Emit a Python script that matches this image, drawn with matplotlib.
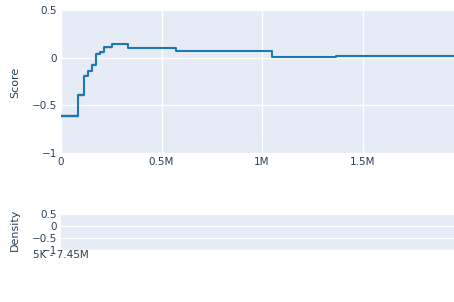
import matplotlib
matplotlib.use("Agg")
import matplotlib.pyplot as plt
import numpy as np

# Step function data (bin edges in units of raw x, score per bin)
edges = [0, 83000, 116000, 136000, 154000, 172000, 194000, 215000, 252000,
         335000, 572000, 1048000, 1368000, 1955000]
scores = [-0.61, -0.39, -0.19, -0.14, -0.075, 0.04, 0.055, 0.11, 0.145,
          0.10, 0.075, 0.005, 0.018]
band = [0.02, 0.02, 0.015, 0.015, 0.015, 0.015, 0.015, 0.015, 0.01,
        0.01, 0.01, 0.01, 0.01]

y_ticks = [-1, -0.5, 0, 0.5]
y_labels = ["\u22121", "\u22120.5", "0", "0.5"]
x_ticks = [0, 500000, 1000000, 1500000]
x_labels = ["0", "0.5M", "1M", "1.5M"]
density_label = "5K - 7.45M"

BG = "#E5ECF6"
TXT = "#2a3f5f"
LINE = "#1f77b4"

fig = plt.figure(figsize=(4.54, 3.02), dpi=100)
W, H = 454, 302

def ax_rect(x0, y0, x1, y1):
    return [x0 / W, 1 - y1 / H, (x1 - x0) / W, (y1 - y0) / H]

ax = fig.add_axes(ax_rect(61, 10, 454, 153))
ax.set_facecolor(BG)
for s in ax.spines.values():
    s.set_visible(False)

xs = np.array(edges, dtype=float)
ys = np.array(scores + [scores[-1]], dtype=float)
bw = np.array(band + [band[-1]], dtype=float)
ax.fill_between(xs, ys - bw, ys + bw, step="post", color="#9aa5b1", alpha=0.35, lw=0, zorder=2)
ax.step(xs, ys, where="post", color=LINE, lw=1.5, zorder=3)

ax.set_xlim(0, edges[-1])
ax.set_ylim(-1, 0.5)
ax.set_yticks(y_ticks)
ax.set_yticklabels(y_labels)
ax.set_xticks(x_ticks)
ax.set_xticklabels(x_labels)
ax.grid(True, color="white", lw=1.0, zorder=1)
ax.set_axisbelow(True)
ax.tick_params(length=0, labelsize=7.5, colors=TXT, pad=3)
for lbl in ax.get_yticklabels():
    lbl.set_color(TXT)

ax2 = fig.add_axes(ax_rect(61, 214, 454, 250))
ax2.set_facecolor(BG)
for s in ax2.spines.values():
    s.set_visible(False)
ax2.set_xlim(0, edges[-1])
ax2.set_ylim(-1, 0.5)
ax2.set_yticks(y_ticks)
ax2.set_yticklabels(y_labels)
ax2.set_xticks([0])
ax2.set_xticklabels([density_label])
ax2.yaxis.grid(True, color="white", lw=1.0)
ax2.tick_params(length=0, labelsize=7.5, colors=TXT, pad=3)
ax2.tick_params(axis="x", pad=0)

fig.text(15 / W, 1 - 82 / H, "Score", rotation=90, ha="center", va="center", fontsize=8, color=TXT)
fig.text(15 / W, 1 - 230 / H, "Density", rotation=90, ha="center", va="center", fontsize=8, color=TXT)

fig.savefig("out.png", dpi=100)
